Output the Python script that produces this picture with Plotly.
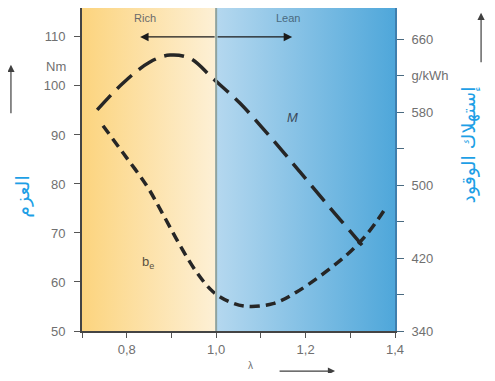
import plotly.graph_objects as go

# torque curve M (left axis, Nm)
lambda_m = [0.734, 0.792, 0.852, 0.897, 0.942, 0.993, 1.053, 1.121, 1.188, 1.255, 1.322, 1.338]
torque_nm = [95.1, 100.6, 104.9, 106.3, 105.6, 101.5, 96.5, 89.6, 82.4, 75.1, 68.0, 66.3]

# specific fuel consumption b_e (right axis, g/kWh)
lambda_be = [0.747, 0.792, 0.845, 0.881, 0.919, 0.957, 0.993, 1.030, 1.069, 1.127, 1.181, 1.284, 1.337, 1.378]
be_gkwh = [565, 535, 499, 468, 434, 404, 383, 372, 367, 370, 383, 420, 446, 474]

x_ticks = [0.7, 0.8, 0.9, 1.0, 1.1, 1.2, 1.3, 1.4]
x_ticktext = ["", "0,8", "", "1,0", "", "1,2", "", "1,4"]
y_ticks = [50, 60, 70, 80, 90, 100, 110]
y2_ticks = [340, 380, 420, 460, 500, 540, 580, 620, 660]
y2_ticktext = ["340", "", "420", "", "500", "", "580", "g/kWh", "660"]

Y_MIN, Y_MAX = 50, 115.9
Y2_MIN, Y2_MAX = 340, 694
TICK_FONT = dict(family="Liberation Sans, Arial", size=13, color="#707070")
BLUE = "#1E9FE6"

fig = go.Figure()

# rich / lean background zones
fig.add_trace(go.Scatter(
    x=[0.7, 1.0, 1.0, 0.7, 0.7], y=[Y_MIN, Y_MIN, Y_MAX, Y_MAX, Y_MIN],
    fill="toself", mode="lines", line_width=0, hoverinfo="skip",
    fillgradient=dict(type="horizontal", colorscale=[[0, "#FCD47E"], [1, "#FDF0D6"]]),
))
fig.add_trace(go.Scatter(
    x=[1.0, 1.4, 1.4, 1.0, 1.0], y=[Y_MIN, Y_MIN, Y_MAX, Y_MAX, Y_MIN],
    fill="toself", mode="lines", line_width=0, hoverinfo="skip",
    fillgradient=dict(type="horizontal", colorscale=[[0, "#B5D8EF"], [1, "#4FA7DA"]]),
))

fig.add_trace(go.Scatter(
    x=lambda_m, y=torque_nm, mode="lines", line_shape="spline",
    line=dict(color="#262626", width=3.5, dash="20px,9px"),
))
fig.add_trace(go.Scatter(
    x=lambda_be, y=be_gkwh, mode="lines", line_shape="spline", yaxis="y2",
    line=dict(color="#262626", width=3.5, dash="10px,6px"),
))

fig.add_shape(type="line", x0=1.0, x1=1.0, y0=Y_MIN, y1=Y_MAX,
              line=dict(color="#8FA39E", width=2))


def note(**kw):
    kw.setdefault("xanchor", "center")
    kw.setdefault("yanchor", "middle")
    kw.setdefault("showarrow", False)
    return kw


annotations = [
    note(x=0.841, y=0.968, xref="x", yref="paper", text="Rich",
         font=dict(family="Liberation Sans, Arial", size=11, color="#6a6a6a")),
    note(x=1.161, y=0.968, xref="x", yref="paper", text="Lean",
         font=dict(family="Liberation Sans, Arial", size=11, color="#4a6a80")),
    # double arrow Rich <-> Lean
    note(x=0.83, y=110, ax=1.0, ay=110, xref="x", yref="y", axref="x", ayref="y",
         text="", showarrow=True, arrowhead=2, arrowsize=1.3, arrowwidth=1.3, arrowcolor="#1a1a1a"),
    note(x=1.17, y=110, ax=1.0, ay=110, xref="x", yref="y", axref="x", ayref="y",
         text="", showarrow=True, arrowhead=2, arrowsize=1.3, arrowwidth=1.3, arrowcolor="#1a1a1a"),
    note(x=1.17, y=93.5, xref="x", yref="y", text="<i>M</i>",
         font=dict(family="Liberation Sans, Arial", size=13, color="#3a4a5a")),
    note(x=0.848, y=64, xref="x", yref="y", text="b<sub>e</sub>",
         font=dict(family="Liberation Sans, Arial", size=13, color="#5a5040")),
    note(x=-0.045, y=0.82, xref="paper", yref="paper", text="Nm",
         xanchor="right", font=TICK_FONT),
    # lambda axis title and arrow
    note(x=1.076, y=-0.108, xref="x", yref="paper", text="λ",
         font=dict(family="Liberation Sans, Arial", size=10, color="#707070")),
    note(x=1.266, y=-0.124, xref="x", yref="paper", ax=-57, ay=0, text="",
         showarrow=True, arrowhead=2, arrowsize=1.2, arrowwidth=1.2, arrowcolor="#404040"),
    # upward arrows beside the two value axes
    note(x=-0.227, y=0.824, xref="paper", yref="paper", ax=0, ay=50, text="",
         showarrow=True, arrowhead=2, arrowsize=1.2, arrowwidth=1.2, arrowcolor="#404040"),
    note(x=1.275, y=0.985, xref="paper", yref="paper", ax=0, ay=51, text="",
         showarrow=True, arrowhead=2, arrowsize=1.2, arrowwidth=1.2, arrowcolor="#404040"),
    # handwritten Arabic labels
    note(x=-0.189, y=0.415, xref="paper", yref="paper", text="العزم", textangle=-90,
         font=dict(family="DejaVu Sans", size=19, color=BLUE)),
    note(x=1.235, y=0.576, xref="paper", yref="paper", text="إستهلاك الوقود", textangle=-90,
         font=dict(family="DejaVu Sans", size=19, color=BLUE)),
]

# page body adds an 8px margin, so the figure is sized to put the plot area
# where the reference has it while the page still fits the window
fig.update_layout(
    width=479, height=365,
    margin=dict(l=74, r=92, t=0, b=42),
    paper_bgcolor="white", plot_bgcolor="white",
    showlegend=False,
    annotations=annotations,
    xaxis=dict(
        range=[0.7, 1.4], tickvals=x_ticks, ticktext=x_ticktext,
        ticks="outside", ticklen=5, tickcolor="#555", tickfont=TICK_FONT,
        showline=True, linecolor="#444", linewidth=2, showgrid=False, zeroline=False,
    ),
    yaxis=dict(
        range=[Y_MIN, Y_MAX], tickvals=y_ticks, ticks="outside", ticklen=6,
        tickcolor="#555", tickfont=TICK_FONT, ticklabelstandoff=6,
        showline=True, linecolor="#444", linewidth=2, showgrid=False, zeroline=False,
    ),
    yaxis2=dict(
        range=[Y2_MIN, Y2_MAX], overlaying="y", side="right", anchor="x",
        tickvals=y2_ticks, ticktext=y2_ticktext, ticks="outside", ticklen=7,
        tickcolor="#4a6a80", tickfont=TICK_FONT, ticklabelstandoff=5,
        showline=True, linecolor="#3f7fae", linewidth=2, showgrid=False, zeroline=False,
    ),
)

fig.write_html("out.html")
